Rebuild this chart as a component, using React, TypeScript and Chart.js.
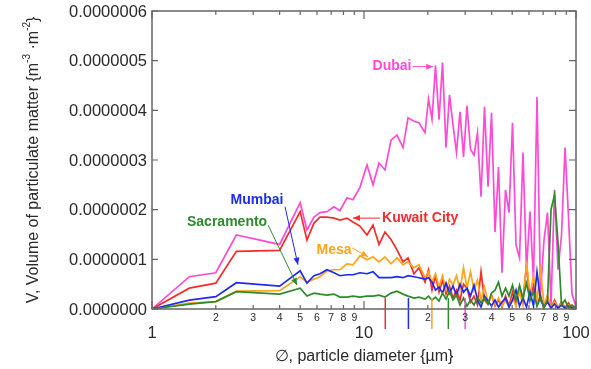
import React, { useEffect, useRef } from 'react';
import { Chart, registerables } from 'chart.js';

Chart.register(...registerables);

// Values are in units of 1e-7 m^3·m^-2
const UNIT = 1e-7;

const diameters = [
  1, 1.5, 2, 2.5, 4, 5.0, 5.38, 5.81, 6.2, 6.69,
  7.22, 7.7, 8.31, 8.87, 9.57, 10.33, 11.03, 11.77, 12.56, 13.41,
  14.31, 15.28, 16.13, 17.21, 18.17, 19.4, 20.15, 20.93, 21.74, 22.59,
  23.46, 24.37, 25.31, 26.29, 27.31, 28.37, 29.47, 30.61, 31.8, 33.03,
  34.31, 35.64, 37.02, 38.46, 39.95, 41.5, 43.1, 44.77, 46.51, 48.31,
  50.18, 52.12, 54.15, 56.23, 58.42, 60.67, 63.03, 65.47, 68.01, 70.65,
  73.39, 76.24, 79.19, 82.27, 85.45, 88.77, 92.18, 95.74, 99.45,
];

const dubai = [
  0, 0.65, 0.73, 1.49, 1.30, 2.14, 1.59, 1.85, 1.94, 1.96,
  2.06, 1.98, 2.24, 2.20, 2.45, 2.90, 2.50, 2.94, 2.80, 3.40,
  3.50, 3.25, 3.85, 3.78, 3.75, 3.55, 4.23, 3.82, 4.90, 3.81,
  4.96, 3.25, 4.31, 3.71, 3.15, 3.97, 3.06, 4.09, 3.21, 3.10,
  3.55, 2.26, 4.07, 2.46, 3.95, 1.55, 2.86, 0.73, 2.40, 1.94,
  3.75, 1.29, 1.03, 3.15, 0.79, 1.96, 0.58, 4.27, 0.32, 1.39,
  1.94, 0.08, 2.40, 0.79, 1.49, 3.25, 1.85, 0.30, 0.08,
];

const kuwaitCity = [
  0, 0.42, 0.52, 1.16, 1.18, 1.96, 1.39, 1.73, 1.85, 1.85,
  1.83, 1.79, 1.83, 1.75, 1.67, 1.49, 1.69, 1.30, 1.55, 1.40,
  1.19, 0.95, 1.03, 0.71, 0.83, 0.54, 0.79, 0.38, 0.67, 0.34,
  0.58, 0.30, 0.46, 0.22, 0.38, 0.18, 0.50, 0.42, 0.14, 0.26,
  0.08, 0.75, 0.18, 0.10, 0.28, 0.06, 0.18, 0.04, 0.26, 0.06,
  0.34, 0.08, 0.38, 0.18, 0.89, 0.18, 0.48, 0.08, 0.28, 0.02,
  0.22, 0.02, 0.18, 0.02, 0.14, 0.02, 0.12, 0.02, 0.06,
];

const mesa = [
  0, 0.12, 0.15, 0.36, 0.37, 0.65, 0.54, 0.60, 0.65, 0.77,
  0.79, 0.79, 0.91, 0.89, 1.07, 0.99, 1.05, 0.95, 1.05, 0.91,
  1.03, 0.89, 0.95, 0.83, 0.89, 0.63, 0.75, 0.54, 0.71, 0.44,
  0.67, 0.38, 0.60, 0.48, 0.67, 0.38, 0.83, 0.42, 0.75, 0.38,
  0.58, 0.18, 0.44, 0.14, 0.26, 0.08, 0.22, 0.06, 0.18, 0.04,
  0.22, 0.06, 0.34, 0.08, 0.95, 0.28, 0.67, 0.18, 0.79, 0.08,
  0.28, 0.02, 0.14, 0.02, 0.12, 0.02, 0.08, 0.02, 0.04,
];

const mumbai = [
  0, 0.18, 0.25, 0.53, 0.46, 0.77, 0.52, 0.67, 0.71, 0.79,
  0.73, 0.67, 0.69, 0.69, 0.73, 0.71, 0.75, 0.63, 0.63, 0.63,
  0.65, 0.63, 0.67, 0.65, 0.63, 0.60, 0.63, 0.54, 0.38, 0.44,
  0.32, 0.52, 0.32, 0.46, 0.28, 0.50, 0.34, 0.42, 0.26, 0.48,
  0.18, 0.04, 0.26, 0.16, 0.06, 0.18, 0.04, 0.14, 0.22, 0.04,
  0.18, 0.38, 0.06, 0.22, 0.04, 0.34, 0.06, 0.75, 0.18, 0.04,
  0.14, 0.02, 0.10, 0.02, 0.08, 0.02, 0.06, 0.02, 0.02,
];

const sacramento = [
  0, 0.10, 0.15, 0.35, 0.30, 0.42, 0.26, 0.32, 0.30, 0.28,
  0.30, 0.24, 0.24, 0.26, 0.24, 0.26, 0.26, 0.28, 0.24, 0.32,
  0.36, 0.30, 0.26, 0.22, 0.24, 0.20, 0.26, 0.18, 0.24, 0.16,
  0.32, 0.20, 0.36, 0.18, 0.28, 0.08, 0.22, 0.06, 0.18, 0.08,
  0.24, 0.12, 0.22, 0.10, 0.32, 0.38, 0.54, 0.26, 0.42, 0.26,
  0.48, 0.18, 0.48, 0.22, 0.52, 0.18, 0.34, 0.06, 0.22, 0.04,
  0.18, 2.00, 2.30, 1.33, 0.08, 0.18, 0.02, 0.08, 0.02,
];

const yTickValues = [0, 1, 2, 3, 4, 5, 6];
const xMajorTicks = [1, 10, 100];
const xMinorTicks = [2, 3, 4, 5, 6, 7, 8, 9, 20, 30, 40, 50, 60, 70, 80, 90];

// mean-diameter markers drawn under the axis
const markerDiameters = [12.6, 16.2, 20.9, 25.0, 30.0];
const markerSeries = ['Kuwait City', 'Mumbai', 'Mesa', 'Sacramento', 'Dubai'];
const MARKER_TOP = 0.22;

const COLORS: Record<string, string> = {
  Dubai: '#ff4bd4',
  'Kuwait City': '#f42c2c',
  Mesa: '#ffa41c',
  Mumbai: '#1f2af0',
  Sacramento: '#2e8a2e',
};

// annotation labels (data coordinates: diameter µm, value ×1e-7)
const annotations = [
  { name: 'Dubai', lx: 13.55, ly: 4.88, ax1: 17.0, ay1: 4.88, ax2: 21.2, ay2: 4.88 },
  { name: 'Kuwait City', lx: 18.4, ly: 1.83, ax1: 11.9, ay1: 1.83, ax2: 8.87, ay2: 1.83 },
  { name: 'Mesa', lx: 7.22, ly: 1.19, ax1: 8.78, ay1: 1.23, ax2: 10.45, ay2: 1.05 },
  { name: 'Mumbai', lx: 3.13, ly: 2.2, ax1: 4.24, ay1: 2.06, ax2: 4.88, ay2: 0.89 },
  { name: 'Sacramento', lx: 2.26, ly: 1.75, ax1: 3.53, ay1: 1.69, ax2: 4.83, ay2: 0.48 },
];

const FONT = "'Liberation Sans', Arial, Helvetica, sans-serif";

const seriesList: [string, number[]][] = [
  ['Sacramento', sacramento],
  ['Mumbai', mumbai],
  ['Mesa', mesa],
  ['Kuwait City', kuwaitCity],
  ['Dubai', dubai],
];

const axesPlugin = {
  id: 'customAxes',
  afterDatasetsDraw(chart: any) {
    const { ctx, chartArea: a, scales } = chart;
    const xs = scales.x;
    const ys = scales.y;
    ctx.save();

    // markers below axis
    markerDiameters.forEach((d, i) => {
      const px = xs.getPixelForValue(d);
      ctx.strokeStyle = COLORS[markerSeries[i]];
      ctx.lineWidth = 1.5;
      ctx.beginPath();
      ctx.moveTo(px, ys.getPixelForValue(MARKER_TOP * UNIT));
      ctx.lineTo(px, a.bottom + 20);
      ctx.stroke();
    });

    // frame
    ctx.strokeStyle = '#666';
    ctx.lineWidth = 1.5;
    ctx.strokeRect(a.left, a.top, a.right - a.left, a.bottom - a.top);

    // y ticks + labels
    ctx.lineWidth = 1.2;
    ctx.fillStyle = '#2a2a2a';
    ctx.font = `16.5px ${FONT}`;
    ctx.textAlign = 'right';
    ctx.textBaseline = 'middle';
    yTickValues.forEach((v) => {
      const py = ys.getPixelForValue(v * UNIT);
      ctx.beginPath();
      ctx.moveTo(a.left, py);
      ctx.lineTo(a.left + 6, py);
      ctx.moveTo(a.right, py);
      ctx.lineTo(a.right - 7, py);
      ctx.stroke();
      ctx.fillText((v * UNIT).toFixed(7), a.left - 5, py + 1);
    });

    // x ticks
    const drawXTick = (v: number, len: number) => {
      const px = xs.getPixelForValue(v);
      ctx.beginPath();
      ctx.moveTo(px, a.bottom);
      ctx.lineTo(px, a.bottom - len);
      ctx.moveTo(px, a.top);
      ctx.lineTo(px, a.top + len);
      ctx.stroke();
    };
    xMinorTicks.forEach((v) => drawXTick(v, 4));
    xMajorTicks.forEach((v) => drawXTick(v, 8));

    ctx.textAlign = 'center';
    ctx.font = `10.5px ${FONT}`;
    xMinorTicks.forEach((v) => {
      const px = xs.getPixelForValue(v);
      const lbl = String(v >= 10 ? v / 10 : v);
      ctx.fillText(lbl, px, a.bottom + 9);
    });
    ctx.font = `16.5px ${FONT}`;
    xMajorTicks.forEach((v) => {
      const px = xs.getPixelForValue(v);
      ctx.fillText(String(v), px, a.bottom + 24);
    });

    // x title
    ctx.font = `16px ${FONT}`;
    ctx.fillText('\u2205, particle diameter {\u00b5m}', (a.left + a.right) / 2, a.bottom + 48);

    // y title with superscripts
    ctx.save();
    ctx.translate(34, (a.top + a.bottom) / 2);
    ctx.rotate(-Math.PI / 2);
    const parts = [
      { t: 'V, Volume of particulate matter {m', sup: false },
      { t: '-3', sup: true },
      { t: ' \u00b7m', sup: false },
      { t: '-2', sup: true },
      { t: '}', sup: false },
    ];
    const mainFont = `16px ${FONT}`;
    const supFont = `10px ${FONT}`;
    let total = 0;
    parts.forEach((p) => {
      ctx.font = p.sup ? supFont : mainFont;
      total += ctx.measureText(p.t).width;
    });
    let cx = -total / 2;
    ctx.textAlign = 'left';
    ctx.textBaseline = 'middle';
    parts.forEach((p) => {
      ctx.font = p.sup ? supFont : mainFont;
      ctx.fillText(p.t, cx, p.sup ? -7 : 0);
      cx += ctx.measureText(p.t).width;
    });
    ctx.restore();

    // annotations
    annotations.forEach((an) => {
      const color = COLORS[an.name];
      ctx.fillStyle = color;
      ctx.strokeStyle = color;
      ctx.font = `bold 14px ${FONT}`;
      ctx.textAlign = 'center';
      ctx.textBaseline = 'middle';
      ctx.fillText(an.name, xs.getPixelForValue(an.lx), ys.getPixelForValue(an.ly * UNIT));
      const x1 = xs.getPixelForValue(an.ax1);
      const y1 = ys.getPixelForValue(an.ay1 * UNIT);
      const x2 = xs.getPixelForValue(an.ax2);
      const y2 = ys.getPixelForValue(an.ay2 * UNIT);
      ctx.lineWidth = 1;
      ctx.beginPath();
      ctx.moveTo(x1, y1);
      ctx.lineTo(x2, y2);
      ctx.stroke();
      const ang = Math.atan2(y2 - y1, x2 - x1);
      const L = 7;
      const W = 3;
      ctx.beginPath();
      ctx.moveTo(x2, y2);
      ctx.lineTo(x2 - L * Math.cos(ang) + W * Math.sin(ang), y2 - L * Math.sin(ang) - W * Math.cos(ang));
      ctx.lineTo(x2 - L * Math.cos(ang) - W * Math.sin(ang), y2 - L * Math.sin(ang) + W * Math.cos(ang));
      ctx.closePath();
      ctx.fill();
    });

    ctx.restore();
  },
};

export default function App() {
  const canvasRef = useRef<HTMLCanvasElement | null>(null);

  useEffect(() => {
    const canvas = canvasRef.current;
    if (!canvas) return;
    const chart = new Chart(canvas, {
      type: 'line',
      data: {
        datasets: seriesList.map(([name, vals]) => ({
          label: name,
          data: diameters.map((d, i) => ({ x: d, y: vals[i] * UNIT })),
          borderColor: COLORS[name],
          backgroundColor: COLORS[name],
          borderWidth: 1.7,
          pointRadius: 0,
          tension: 0,
          fill: false,
        })),
      },
      options: {
        animation: false,
        responsive: false,
        devicePixelRatio: 1,
        layout: { padding: { left: 152, right: 15, top: 11, bottom: 60 } },
        scales: {
          x: { type: 'logarithmic', min: 1, max: 100, display: false },
          y: { type: 'linear', min: 0, max: 6e-7, display: false },
        },
        plugins: { legend: { display: false }, tooltip: { enabled: false } },
      },
      plugins: [axesPlugin],
    } as any);
    return () => chart.destroy();
  }, []);

  return (
    <div style={{ width: 591, height: 369, background: '#fff' }}>
      <style>{'body{margin:0;background:#fff;}'}</style>
      <canvas ref={canvasRef} width={591} height={369} style={{ display: 'block' }} />
    </div>
  );
}
